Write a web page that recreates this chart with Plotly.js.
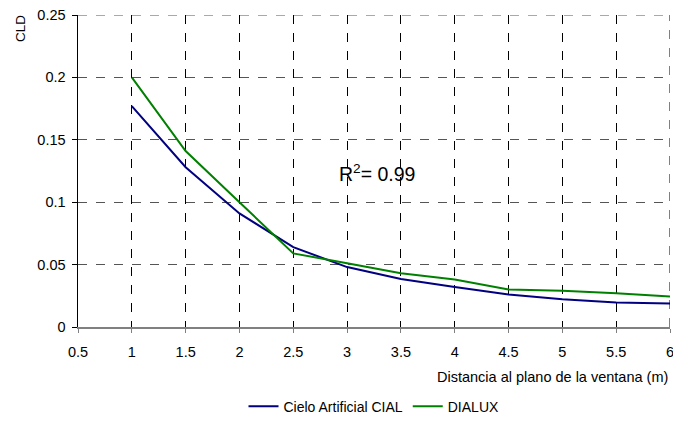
<!DOCTYPE html>
<html>
<head>
<meta charset="utf-8">
<script src="https://cdn.plot.ly/plotly-3.0.1.min.js"></script>
<style>html,body{margin:0;padding:0;background:#fff;overflow:hidden;}#chart{width:673px;height:425px;}</style>
</head>
<body>
<div id="chart"></div>
<script>
const distance = [1, 1.5, 2, 2.5, 3, 3.5, 4, 4.5, 5, 5.5, 6];
const cial = [0.177, 0.128, 0.091, 0.064, 0.048, 0.0385, 0.032, 0.026, 0.0223, 0.0196, 0.0188];
const dialux = [0.200, 0.141, 0.100, 0.059, 0.051, 0.043, 0.038, 0.030, 0.029, 0.027, 0.0244];
const seriesNames = ["Cielo Artificial CIAL", "DIALUX"];
const xTicks = [0.5, 1, 1.5, 2, 2.5, 3, 3.5, 4, 4.5, 5, 5.5, 6];
const yTicks = [0, 0.05, 0.1, 0.15, 0.2, 0.25];

const fam = "Liberation Sans, Arial, sans-serif";
const font = {family: fam, color: "#000", size: 14.5};
const xMax = xTicks[xTicks.length - 1];
const yMax = yTicks[yTicks.length - 1];

const traces = [
  {x: distance, y: cial, name: seriesNames[0], mode: "lines", line: {color: "#000080", width: 2}},
  {x: distance, y: dialux, name: seriesNames[1], mode: "lines", line: {color: "#008000", width: 2}}
];

const layout = {
  width: 673, height: 425,
  margin: {l: 78, r: 3, t: 15, b: 97.5},
  paper_bgcolor: "#fff", plot_bgcolor: "#fff",
  font: font,
  showlegend: true,
  legend: {orientation: "h", x: 0.5, xanchor: "center", y: -0.255, yanchor: "middle",
           font: {family: fam, size: 14, color: "#000"}, itemwidth: 30, tracegroupgap: 0},
  xaxis: {
    range: [xTicks[0], xMax], tickvals: xTicks, ticktext: xTicks.map(String),
    showgrid: true, gridcolor: "#000", griddash: "dash", gridwidth: 1,
    showline: true, linecolor: "#808080", linewidth: 1.5,
    ticks: "outside", ticklen: 4, tickcolor: "#808080", zeroline: false,
    tickfont: font, fixedrange: true, ticklabeloverflow: "allow", ticklabelstandoff: 7
  },
  yaxis: {
    range: [yTicks[0], yMax], tickvals: yTicks, ticktext: yTicks.map(String),
    showgrid: true, gridcolor: "#555", griddash: "dash", gridwidth: 1,
    showline: true, linecolor: "#000", linewidth: 1.5,
    ticks: "outside", ticklen: 5, tickcolor: "#000", zeroline: false,
    tickfont: font, fixedrange: true, ticklabelstandoff: 3
  },
  shapes: [
    {type: "line", xref: "paper", yref: "y", x0: 0, x1: 1, y0: yMax, y1: yMax, line: {color: "#555", width: 1, dash: "dash"}},
    {type: "line", xref: "x", yref: "paper", x0: xMax, x1: xMax, y0: 0, y1: 1, line: {color: "#000", width: 1, dash: "dash"}}
  ],
  annotations: [
    {text: "R<sup>2</sup>= 0.99", xref: "paper", yref: "paper", x: (337 - 78) / 592, y: (327.5 - 173) / 312.5,
     xanchor: "left", yanchor: "middle", showarrow: false, font: {family: fam, size: 19.5, color: "#000"}},
    {text: "Distancia al plano de la ventana (m)", xref: "paper", yref: "paper", x: 1, y: (327.5 - 378) / 312.5,
     xanchor: "right", yanchor: "middle", showarrow: false, font: {family: fam, size: 14.5, color: "#000"}},
    {text: "CLD", xref: "paper", yref: "paper", x: (21 - 78) / 592, y: (327.5 - 29) / 312.5,
     xanchor: "center", yanchor: "middle", textangle: -90, showarrow: false, font: {family: fam, size: 13.5, color: "#000"}}
  ]
};

Plotly.newPlot("chart", traces, layout, {displayModeBar: false, staticPlot: true});
</script>
</body>
</html>
